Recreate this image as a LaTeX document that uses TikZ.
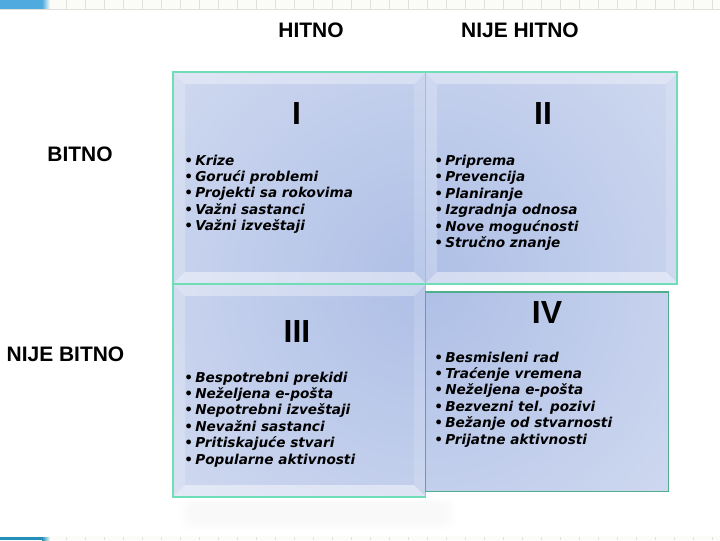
\documentclass[tikz,border=0pt]{standalone}
\usepackage{fontspec}
\setmainfont{Liberation Sans}
\newfontfamily\listafont{DejaVu Sans}
\definecolor{plava}{HTML}{4EAADF}
\definecolor{plavadole}{HTML}{2290B8}
\definecolor{traka}{HTML}{FBFBF7}
\definecolor{crtica}{HTML}{E0E0DC}
\definecolor{zelena}{HTML}{6FDDB5}
\definecolor{zelenaIV}{HTML}{4FAE8C}
\definecolor{tamna}{HTML}{AEBFE6}
\definecolor{svetla}{HTML}{E6EAF6}
\def\sirina{720}
\def\visina{540}
\def\kor{16.4}
% kosine oko polja
\newcommand\kosine[4]{%
  \fill[white, opacity=.35] (#1,#2) -- (#3,#2) -- (#3-11,#2+11) -- (#1+11,#2+11) -- cycle;
  \fill[white, opacity=.22] (#1,#2) -- (#1+11,#2+11) -- (#1+11,#4-11) -- (#1,#4) -- cycle;
  \fill[white, opacity=.15] (#3,#2) -- (#3,#4) -- (#3-11,#4-11) -- (#3-11,#2+11) -- cycle;
  \fill[white, opacity=.45] (#1,#4) -- (#1+11,#4-11) -- (#3-11,#4-11) -- (#3,#4) -- cycle;}

\begin{document}
\begin{tikzpicture}[x=0.025cm, y=-0.025cm,
    naslov/.style={font=\bfseries\fontsize{14.9}{16}\selectfont, inner sep=0},
    broj/.style={font=\bfseries\fontsize{22.7}{24}\selectfont, inner sep=0},
    stavka/.style={font=\listafont\bfseries\itshape\fontsize{9.7}{11}\selectfont, anchor=base west, inner sep=0},
    okvir/.style={draw=zelena, line width=0.9pt}]
    \useasboundingbox (0,0) rectangle (\sirina,\visina);
    % trake gore i dole
    \fill[traka] (0,0) rectangle (\sirina,9);
    \foreach \x in {47,66,...,720} \draw[crtica, line width=0.3pt] (\x,0) -- (\x,9);
    \draw[crtica, line width=0.4pt] (0,9.5) -- (\sirina,9.5);
    \fill[plava] (0,0) rectangle (42,8.5);
    \shade[left color=plava, right color=traka] (42,0) rectangle (50,8.5);
    \fill[traka] (0,536) rectangle (\sirina,\visina);
    \foreach \x in {47,66,...,720} \draw[crtica, line width=0.3pt] (\x,537) -- (\x,\visina);
    \fill[plavadole] (0,537) rectangle (42,\visina);
    \shade[left color=plavadole, right color=traka] (42,537) rectangle (50,\visina);
    % senka ispod tabele
    \foreach \k in {0,...,5}
        \fill[black, opacity=.005, rounded corners=6] (180+\k*2,498+\k) rectangle (456-\k*2,530-\k*1.5);
    % polja
    \begin{scope}
        \clip (174,73) rectangle (425,283) (426,73) rectangle (677,283)
              (174,285) rectangle (425,496) (426,293) rectangle (668,491);
        \shade[inner color=tamna, outer color=svetla] (425,283) circle (560);
    \end{scope}
    \kosine{174}{73}{425}{283}
    \kosine{426}{73}{677}{283}
    \kosine{174}{285}{425}{496}
    % okviri
    \draw[okvir] (173,72) rectangle (677,284);
    \draw[okvir] (425.5,72) -- (425.5,284);
    \draw[okvir] (173,284) rectangle (425.5,497);
    \draw[draw=zelenaIV, line width=0.9pt] (425.5,292) rectangle (668.5,491.5);
    % naslovi
    \node[naslov] (hitno) at (311,30) {HITNO};
    \node[naslov] (nijehitno) at (520,30) {NIJE HITNO};
    \node[naslov] (bitno) at (80,154.5) {BITNO};
    \node[naslov] (nijebitno) at (65.5,354.5) {NIJE BITNO};
    % brojevi
    \node[broj] (q1) at (296.5,113.5) {I};
    \node[broj] (q2) at (543,114) {II};
    \node[broj] (q3) at (297,331.5) {III};
    \node[broj] (q4) at (547,312.5) {IV};
    % liste
    \foreach \t [count=\i] in {Krize,Gorući problemi,Projekti sa rokovima,Važni sastanci,Važni izveštaji}
        \node[stavka] (a\i) at (184,{165+\kor*(\i-1)}) {•\,\t};
    \foreach \t [count=\i] in {Priprema,Prevencija,Planiranje,Izgradnja odnosa,Nove mogućnosti,Stručno znanje}
        \node[stavka] (b\i) at (434,{165.5+\kor*(\i-1)}) {•\,\t};
    \foreach \t [count=\i] in {Bespotrebni prekidi,Neželjena e-pošta,Nepotrebni izveštaji,Nevažni sastanci,Pritiskajuće stvari,Popularne aktivnosti}
        \node[stavka] (c\i) at (184,{382+\kor*(\i-1)}) {•\,\t};
    \foreach \t [count=\i] in {Besmisleni rad,Traćenje vremena,Neželjena e-pošta,Bezvezni tel. pozivi,Bežanje od stvarnosti,Prijatne aktivnosti}
        \node[stavka] (d\i) at (434,{362+\kor*(\i-1)}) {•\,\t};
\end{tikzpicture}
\end{document}
